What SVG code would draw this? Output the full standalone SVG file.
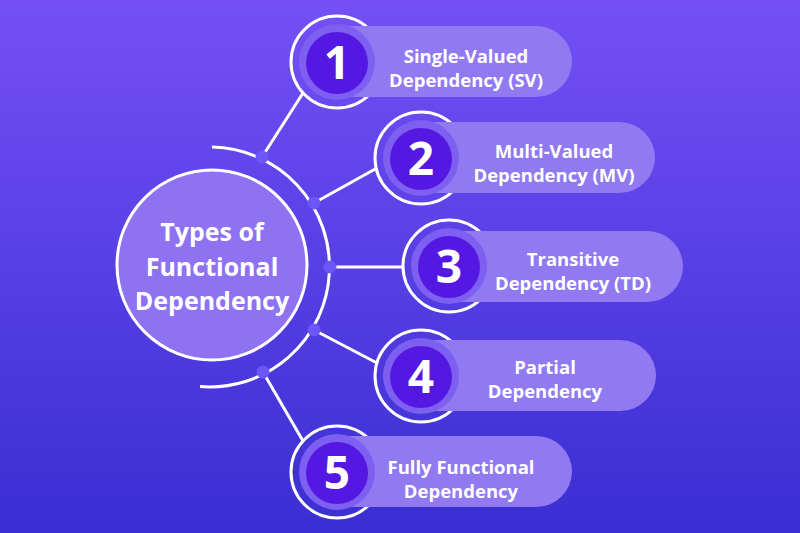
<svg xmlns="http://www.w3.org/2000/svg" width="800" height="533" viewBox="0 0 800 533">
<defs>
<linearGradient id="bg" x1="0" y1="0" x2="0" y2="1">
<stop offset="0" stop-color="#7450f6"/><stop offset="1" stop-color="#3a2ed2"/>
</linearGradient>
<style>
.ring{fill:none;stroke:#fff;stroke-width:3}
.pill{fill:#9179f2}
.mid{fill:#7d5ff1}
.core{fill:#5418e2}
.num{font-family:"Open Sans",sans-serif;font-weight:700;font-size:46px;fill:#fff;text-anchor:middle}
.lbl{font-family:"Open Sans",sans-serif;font-weight:700;font-size:18.5px;fill:#fff;text-anchor:middle}
.dot{fill:#6d56f6}
.conn{stroke:#fff;stroke-width:3;fill:none}
</style>
</defs>
<rect width="800" height="533" fill="url(#bg)"/>
<g id="connectors">
<path class="conn" d="M212,147 A120,120 0 1 1 200,386.6"/>
<line class="conn" x1="262" y1="157" x2="303" y2="93"/>
<line class="conn" x1="314" y1="203" x2="377" y2="168"/>
<line class="conn" x1="330" y1="267" x2="404" y2="267"/>
<line class="conn" x1="314" y1="330" x2="377" y2="363"/>
<line class="conn" x1="263" y1="372" x2="303" y2="441"/>
<circle class="dot" cx="262" cy="157" r="6.5"/>
<circle class="dot" cx="314" cy="203" r="6.5"/>
<circle class="dot" cx="330" cy="267" r="6.5"/>
<circle class="dot" cx="314" cy="330" r="6.5"/>
<circle class="dot" cx="263" cy="372" r="6.5"/>
</g>
<g id="center">
<circle cx="212" cy="265" r="95" fill="#8e72f2" stroke="#fff" stroke-width="3"/>
<text class="lbl" style="font-size:25px" x="212" y="241">Types of</text>
<text class="lbl" style="font-size:25px" x="212" y="276">Functional</text>
<text class="lbl" style="font-size:25px" x="212" y="310">Dependency</text>
</g>
<g id="n1">
<circle class="ring" cx="337" cy="62" r="46"/>
<rect class="pill" x="300" y="26" width="272" height="71" rx="35.5"/>
<circle class="mid" cx="337" cy="62" r="38"/><circle class="core" cx="337" cy="63" r="31"/>
<text class="num" x="337" y="79">1</text>
<text class="lbl" x="466" y="63">Single-Valued</text>
<text class="lbl" x="466" y="87">Dependency (SV)</text>
</g>
<g id="n2">
<circle class="ring" cx="421" cy="158" r="46"/>
<rect class="pill" x="385" y="122" width="270" height="71" rx="35.5"/>
<circle class="mid" cx="421" cy="158" r="38"/><circle class="core" cx="421" cy="159" r="31"/>
<text class="num" x="421" y="175">2</text>
<text class="lbl" x="554" y="158">Multi-Valued</text>
<text class="lbl" x="554" y="182">Dependency (MV)</text>
</g>
<g id="n3">
<circle class="ring" cx="449" cy="266" r="46"/>
<rect class="pill" x="412" y="231" width="271" height="71" rx="35.5"/>
<circle class="mid" cx="449" cy="266" r="38"/><circle class="core" cx="449" cy="267" r="31"/>
<text class="num" x="449" y="283">3</text>
<text class="lbl" x="573" y="266">Transitive</text>
<text class="lbl" x="573" y="290">Dependency (TD)</text>
</g>
<g id="n4">
<circle class="ring" cx="421" cy="376" r="46"/>
<rect class="pill" x="385" y="340" width="271" height="71" rx="35.5"/>
<circle class="mid" cx="421" cy="376" r="38"/><circle class="core" cx="421" cy="377" r="31"/>
<text class="num" x="421" y="393">4</text>
<text class="lbl" x="545" y="374">Partial</text>
<text class="lbl" x="545" y="398">Dependency</text>
</g>
<g id="n5">
<circle class="ring" cx="337" cy="472" r="46"/>
<rect class="pill" x="300" y="436" width="272" height="71" rx="35.5"/>
<circle class="mid" cx="337" cy="472" r="38"/><circle class="core" cx="337" cy="473" r="31"/>
<text class="num" x="337" y="489">5</text>
<text class="lbl" x="461" y="474">Fully Functional</text>
<text class="lbl" x="461" y="498">Dependency</text>
</g>
</svg>
